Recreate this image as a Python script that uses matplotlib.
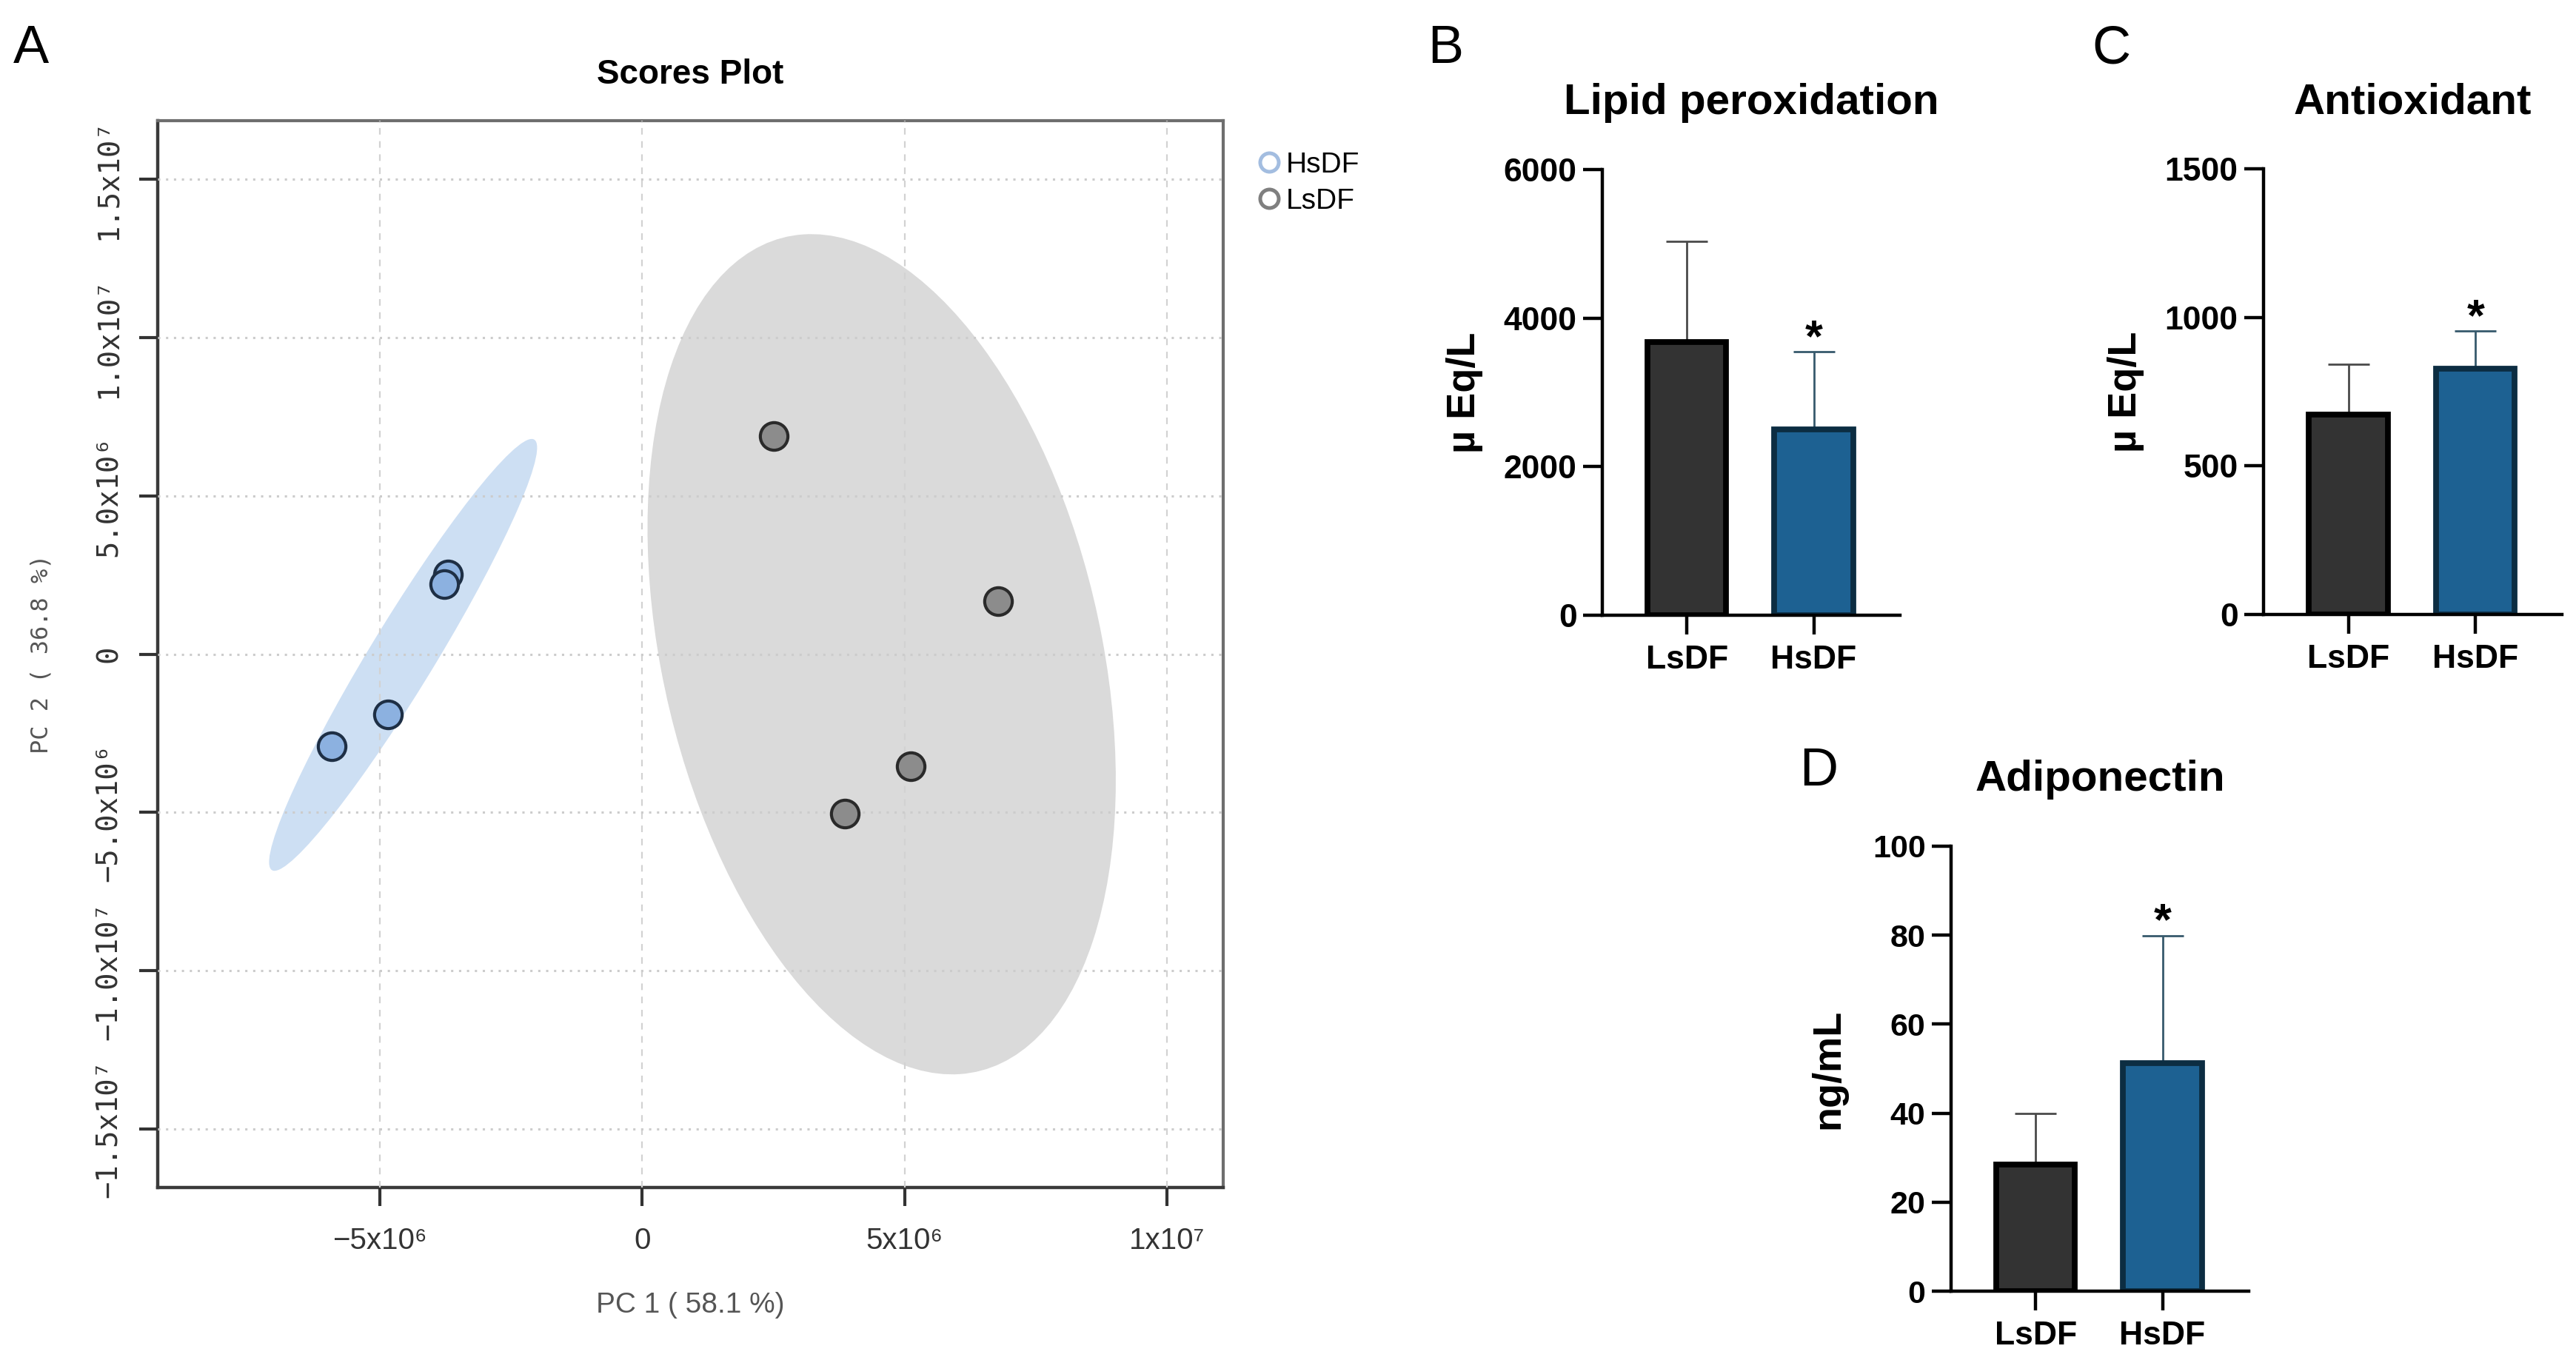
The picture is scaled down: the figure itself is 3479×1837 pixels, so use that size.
import numpy as np
import matplotlib
matplotlib.use('Agg')
import matplotlib.pyplot as plt
from matplotlib.patches import Ellipse
from matplotlib.lines import Line2D

plt.rcParams['font.family'] = ['Liberation Sans', 'DejaVu Sans']

# PCA scores (panel A)
hs_pc1 = [-3.70e6, -3.77e6, -4.84e6, -5.91e6]
hs_pc2 = [2.51e6, 2.21e6, -1.91e6, -2.91e6]
ls_pc1 = [2.50e6, 6.78e6, 5.11e6, 3.86e6]
ls_pc2 = [6.89e6, 1.67e6, -3.54e6, -5.04e6]

pc1_ticks = [-5e6, 0, 5e6, 1e7]
pc1_labels = ['\u22125x10\u2076', '0', '5x10\u2076', '1x10\u2077']
pc2_ticks = [1.5e7, 1e7, 5e6, 0, -5e6, -1e7, -1.5e7]
pc2_labels = ['1.5x10\u2077', '1.0x10\u2077', '5.0x10\u2076', '0',
              '\u22125.0x10\u2076', '\u22121.0x10\u2077', '\u22121.5x10\u2077']

# bar panels (B, C, D): mean and upper SD
groups = ['LsDF', 'HsDF']
lipid_mean = [3675, 2500]
lipid_sd = [1358, 1048]
antiox_mean = [673, 827]
antiox_sd = [169, 127]
adipo_mean = [28.4, 51.2]
adipo_sd = [11.5, 28.7]

W, H, DPI = 3480, 1837, 200
fig = plt.figure(figsize=(W / DPI, H / DPI), dpi=DPI)


def box(left, top, right, bottom):
    # pixel box -> figure fraction rect
    return [left / W, 1 - bottom / H, (right - left) / W, (bottom - top) / H]


def conf_ellipse(ax, x, y, color):
    x = np.asarray(x)
    y = np.asarray(y)
    vals, vecs = np.linalg.eigh(np.cov(x, y))
    order = vals.argsort()[::-1]
    vals, vecs = vals[order], vecs[:, order]
    angle = np.degrees(np.arctan2(vecs[1, 0], vecs[0, 0]))
    k = np.sqrt(5.991)  # 95% chi-square, 2 dof
    ax.add_patch(Ellipse((x.mean(), y.mean()), 2 * k * np.sqrt(vals[0]), 2 * k * np.sqrt(vals[1]),
                         angle=angle, facecolor=color, edgecolor='none', zorder=1))


# ---- panel A: scores plot
axA = fig.add_axes(box(213, 163, 1652, 1604))
conf_ellipse(axA, hs_pc1, hs_pc2, '#cddff3')
conf_ellipse(axA, ls_pc1, ls_pc2, '#dadada')
axA.scatter(hs_pc1, hs_pc2, s=180, facecolor='#8cb1e0', edgecolor='#1e2f45', linewidth=1.5, zorder=3)
axA.scatter(ls_pc1, ls_pc2, s=180, facecolor='#8c8c8c', edgecolor='#2a2a2a', linewidth=1.5, zorder=3)
axA.set_xlim(-9.23e6, 1.107e7)
axA.set_ylim(-1.685e7, 1.685e7)
axA.set_axisbelow(False)
axA.xaxis.grid(True, linestyle=(0, (4, 4)), color='#d2d2d2', linewidth=0.8)
axA.yaxis.grid(True, linestyle=(0, (1, 2.5)), color='#cccccc', linewidth=1.1)
axA.set_xticks(pc1_ticks, labels=pc1_labels, fontsize=14.5, color='#333333')
axA.set_yticks(pc2_ticks, labels=pc2_labels, fontsize=14, color='#333333',
               family=['DejaVu Sans Mono'], rotation=90, va='center')
axA.tick_params(axis='both', length=9, width=1.5, color='#333333')
axA.tick_params(axis='x', pad=10)
axA.tick_params(axis='y', pad=8)
for side in ['top', 'right']:
    axA.spines[side].set_color('#6e6e6e')
    axA.spines[side].set_linewidth(1.5)
for side in ['left', 'bottom']:
    axA.spines[side].set_color('#3a3a3a')
    axA.spines[side].set_linewidth(1.6)
axA.set_title('Scores Plot', fontsize=16.5, fontweight='bold', pad=18)
axA.set_xlabel('PC 1 ( 58.1 %)', fontsize=14, color='#555555')
axA.xaxis.set_label_coords(0.5, -0.098)
axA.set_ylabel('PC 2 ( 36.8 %)', fontsize=11.5, color='#555555', family=['DejaVu Sans Mono'])
axA.yaxis.set_label_coords(-0.098, 0.5)
handles = [Line2D([], [], ls='none', marker='o', markersize=9, markerfacecolor='none',
                  markeredgecolor='#a3bde0', markeredgewidth=1.8, label='HsDF'),
           Line2D([], [], ls='none', marker='o', markersize=9, markerfacecolor='none',
                  markeredgecolor='#7f7f7f', markeredgewidth=1.8, label='LsDF')]
axA.legend(handles=handles, loc='upper left', bbox_to_anchor=(1700 / W, 1 - 205 / H),
           bbox_transform=fig.transFigure, frameon=False, fontsize=14, borderaxespad=0,
           borderpad=0, handlelength=0.7, handletextpad=0.25, labelspacing=0.33)


# ---- bar panels
def bar_panel(ax, means, sds, title, ylabel, ymax, step, ylab_x, tsize):
    x = np.arange(len(groups))
    fills = ['#333333', '#1d6192']
    edges = ['#000000', '#0c2d42']
    errc = ['#4a4a4a', '#37596c']
    ax.bar(x, means, width=0.62, color=fills, edgecolor=edges, linewidth=2.8, zorder=2)
    for i in range(len(x)):
        ax.errorbar(x[i], means[i], yerr=[[0], [sds[i]]], fmt='none', ecolor=errc[i],
                    elinewidth=1.0, capsize=10, capthick=1.0, zorder=1)
    ax.annotate('*', xy=(x[1], means[1] + sds[1]), xytext=(0, 6), textcoords='offset points',
                ha='center', va='center', fontsize=22, fontweight='bold')
    ax.set_xlim(-0.667, 1.68)
    ax.set_ylim(0, ymax)
    ticks = np.arange(0, ymax + step / 2, step)
    ax.set_yticks(ticks, labels=[f'{t:g}' for t in ticks], fontweight='bold', fontsize=tsize)
    ax.set_xticks(x, labels=groups, fontweight='bold', fontsize=16)
    ax.tick_params(axis='both', length=9.4, width=1.6, color='black')
    ax.tick_params(axis='y', pad=3)
    ax.tick_params(axis='x', pad=5)
    for side in ['top', 'right']:
        ax.spines[side].set_visible(False)
    for side in ['left', 'bottom']:
        ax.spines[side].set_linewidth(1.6)
    ax.set_title(title, fontsize=21, fontweight='bold', pad=27)
    ax.set_ylabel(ylabel, fontsize=19.5, fontweight='bold')
    ax.yaxis.set_label_coords(ylab_x, 0.5)


axB = fig.add_axes(box(2164, 229, 2566, 831))
bar_panel(axB, lipid_mean, lipid_sd, 'Lipid peroxidation', '\u00b5 Eq/L', 6000, 2000, -0.40, 16)
axC = fig.add_axes(box(3057, 228, 3460, 830))
bar_panel(axC, antiox_mean, antiox_sd, 'Antioxidant', '\u00b5 Eq/L', 1500, 500, -0.40, 16)
axD = fig.add_axes(box(2635, 1143, 3037, 1744))
bar_panel(axD, adipo_mean, adipo_sd, 'Adiponectin', 'ng/mL', 100, 20, -0.35, 15.5)

# panel letters
for letter, px, py in [('A', 42, 85), ('B', 1952, 85), ('C', 2851, 85), ('D', 2456, 1061)]:
    fig.text(px / W, 1 - py / H, letter, fontsize=26, ha='center', va='baseline')

fig.savefig('out.png', dpi=DPI, facecolor='white')
